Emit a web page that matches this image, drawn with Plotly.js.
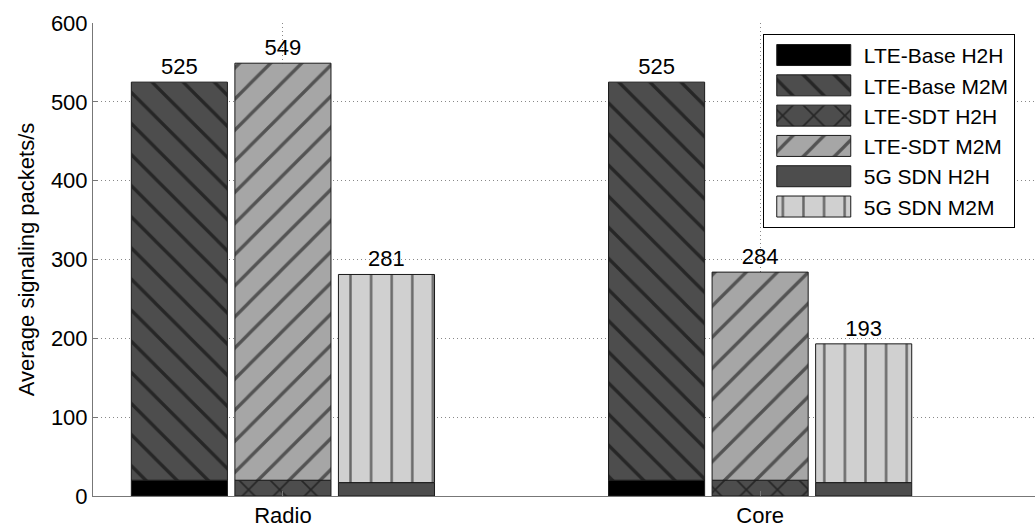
<!DOCTYPE html>
<html>
<head>
<meta charset="utf-8">
<script src="https://cdn.plot.ly/plotly-3.0.1.min.js"></script>
<style>
  html, body { margin: 0; padding: 0; background: #fff; }
  #chart { width: 1035px; height: 528px; }
</style>
</head>
<body>
<div id="chart"></div>
<script>
// Signalling load per network segment
const categories = ['Radio', 'Core'];

// H2H share at the bottom of each stack
const lteBaseH2H = [20, 20];
const lteSdtH2H  = [20, 20];
const sdnH2H     = [17, 17];

// Stack totals (printed above each bar)
const lteBaseTotal = [525, 525];
const lteSdtTotal  = [549, 284];
const sdnTotal     = [281, 193];

const seriesNames = [
  'LTE-Base H2H', 'LTE-Base M2M',
  'LTE-SDT H2H', 'LTE-SDT M2M',
  '5G SDN H2H', '5G SDN M2M'
];

const FONT = 'Liberation Sans, Arial, sans-serif';
const outline = { color: '#1a1a1a', width: 1 };

function minus(a, b) { return a.map((v, i) => v - b[i]); }

function patternOf(shape, color, size, solidity) {
  return { shape: shape, fgcolor: '#000', bgcolor: color,
           fillmode: 'overlay', size: size, solidity: solidity };
}

function h2h(name, vals, group, color, pattern) {
  const marker = { color: color, line: outline };
  if (pattern) marker.pattern = pattern;
  return { type: 'bar', name: name, x: categories, y: vals,
           offsetgroup: group, marker: marker, hoverinfo: 'y+name' };
}

function m2m(name, h2hVals, totals, group, color, pattern) {
  return {
    type: 'bar', name: name, x: categories,
    y: minus(totals, h2hVals), base: h2hVals,
    offsetgroup: group,
    marker: { color: color, line: outline, pattern: pattern },
    text: totals.map(String), textposition: 'outside',
    textfont: { family: FONT, size: 22, color: '#000' },
    cliponaxis: false, hoverinfo: 'y+name'
  };
}

const traces = [
  h2h(seriesNames[0], lteBaseH2H, 'base', '#000000', null),
  m2m(seriesNames[1], lteBaseH2H, lteBaseTotal, 'base', '#4d4d4d',
      patternOf('\\', '#4d4d4d', 22, 0.15)),
  h2h(seriesNames[2], lteSdtH2H, 'sdt', '#4d4d4d',
      patternOf('x', '#4d4d4d', 22, 0.15)),
  m2m(seriesNames[3], lteSdtH2H, lteSdtTotal, 'sdt', '#a6a6a6',
      patternOf('/', '#a6a6a6', 22, 0.15)),
  h2h(seriesNames[4], sdnH2H, 'sdn', '#4d4d4d', null),
  m2m(seriesNames[5], sdnH2H, sdnTotal, 'sdn', '#d0d0d0',
      patternOf('|', '#d0d0d0', 20.6, 0.12))
];

const axisCommon = {
  showline: true, linecolor: '#777', linewidth: 1,
  ticks: 'inside', ticklen: 5, tickcolor: '#777',
  showgrid: true, gridcolor: '#888', griddash: '1px,3px', gridwidth: 1,
  tickfont: { family: FONT, size: 22, color: '#000' },
  zeroline: false, fixedrange: true
};

const layout = {
  width: 1035, height: 528,
  margin: { l: 93, r: 0, t: 23, b: 32 },
  paper_bgcolor: '#fff', plot_bgcolor: '#fff',
  font: { family: FONT, size: 22, color: '#000' },
  barmode: 'group', bargap: 0.349, bargroupgap: 0.072,
  showlegend: true,
  legend: {
    x: 0.711, y: 0.977, xanchor: 'left', yanchor: 'top',
    bgcolor: '#fff', bordercolor: '#000', borderwidth: 1,
    font: { family: FONT, size: 21, color: '#000' },
    traceorder: 'normal', tracegroupgap: 0, itemwidth: 90
  },
  xaxis: Object.assign({}, axisCommon, {
    type: 'category', range: [-0.398, 1.576]
  }),
  yaxis: Object.assign({}, axisCommon, {
    range: [0, 600], dtick: 100, tick0: 0,
    title: { text: 'Average signaling packets/s', standoff: 10,
             font: { family: FONT, size: 22, color: '#000' } }
  })
};

Plotly.newPlot('chart', traces, layout, { displayModeBar: false, staticPlot: true })
  .then(function (gd) {
    // long rectangular legend swatches that reuse each bar trace's own fill
    const barTraces = gd.querySelectorAll('.barlayer .trace');
    const legendItems = gd.querySelectorAll('.legend .traces');
    legendItems.forEach(function (item, i) {
      const swatch = item.querySelector('.legendpoints path');
      if (!swatch) return;
      swatch.setAttribute('d', 'M-37,-10.5H37V10.5H-37Z');
      const barPath = barTraces[i] && barTraces[i].querySelector('.point path');
      if (barPath) swatch.style.fill = barPath.style.fill;
    });
  });
</script>
</body>
</html>
